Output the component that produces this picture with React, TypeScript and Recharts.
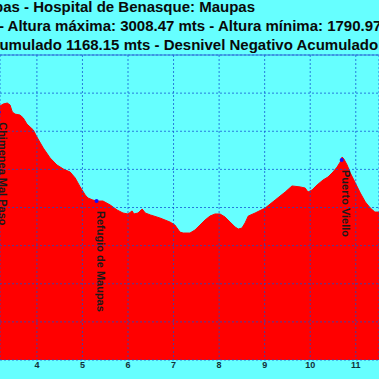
import React from "react";
import {
  ComposedChart,
  Area,
  Scatter,
  XAxis,
  YAxis,
  CartesianGrid,
  ReferenceLine,
} from "recharts";

// distance (km) and altitude (m)
const distanceKm = [
  3.19, 3.26, 3.35, 3.41, 3.46, 3.52, 3.63, 3.7, 3.78, 3.92, 4.0, 4.14, 4.29,
  4.44, 4.58, 4.73, 4.84, 4.95, 5.06, 5.12, 5.23, 5.32, 5.45, 5.61, 5.76, 5.89,
  6.0, 6.09, 6.13, 6.22, 6.31, 6.38, 6.49, 6.7, 6.92, 7.03, 7.14, 7.21, 7.36,
  7.47, 7.58, 7.69, 7.8, 7.91, 8.02, 8.13, 8.24, 8.35, 8.42, 8.5, 8.57, 8.64,
  8.79, 9.01, 9.23, 9.45, 9.6, 9.78, 9.89, 9.95, 10.04, 10.15, 10.28, 10.39,
  10.5, 10.59, 10.66, 10.7, 10.74, 10.81, 10.88, 10.99, 11.1, 11.21, 11.32,
  11.42, 11.51,
];
const altitude = [
  2832, 2843, 2848, 2838, 2801, 2790, 2785, 2770, 2738, 2707, 2670, 2612, 2560,
  2523, 2502, 2486, 2455, 2408, 2366, 2350, 2339, 2334, 2334, 2313, 2287, 2271,
  2266, 2282, 2266, 2271, 2292, 2271, 2261, 2245, 2224, 2208, 2171, 2166, 2166,
  2182, 2208, 2234, 2255, 2266, 2266, 2250, 2224, 2198, 2187, 2192, 2219, 2255,
  2271, 2297, 2339, 2381, 2413, 2408, 2402, 2381, 2392, 2418, 2444, 2460,
  2486, 2512, 2539, 2565, 2554, 2523, 2481, 2429, 2376, 2329, 2297,
  2276, 2276,
];

const waypointNames = ["Chimenea Mal Paso", "Refugio de Maupas", "Puerto Viello"];
const waypointKm = [3.16, 5.31, 10.69];
const waypointAlt = [2800, 2334, 2549];

const xTicks = [4, 5, 6, 7, 8, 9, 10, 11];
const yTicks = [1500, 1700, 1900, 2100, 2300, 2500, 2700, 2900, 3100];

const titleLines = [
  "Maupas - Hospital de Benasque: Maupas",
  "- Altura máxima: 3008.47 mts - Altura mínima: 1790.97 mts",
  "Desnivel Positivo Acumulado 1168.15 mts - Desnivel Negativo Acumulado",
];

const profile = distanceKm.map((km, i) => ({ km, alt: altitude[i] }));
const waypoints = waypointNames.map((name, i) => ({
  name,
  km: waypointKm[i],
  alt: waypointAlt[i],
}));

const W = 379;
const H = 379;
const FONT = "'Liberation Sans', Arial, sans-serif";

const Waypoint = (props: any) => {
  const { cx, cy, payload } = props;
  const ty = cy + 10;
  return (
    <g>
      <circle cx={cx} cy={cy} r={2} fill="#1010ff" />
      <text
        x={cx}
        y={ty}
        transform={`rotate(90 ${cx} ${ty})`}
        fontSize={11}
        fontWeight="bold"
        fontFamily={FONT}
        fill="#1a1a1a"
      >
        {payload.name}
      </text>
    </g>
  );
};

export default function App() {
  return (
    <div
      style={{
        position: "absolute",
        left: 0,
        top: 0,
        width: W,
        height: H,
        overflow: "hidden",
        background: "#66ffff",
      }}
    >
      <ComposedChart
        width={W}
        height={H}
        data={profile}
        margin={{ top: 55, right: 0, bottom: 0, left: 0 }}
      >
        <XAxis
          dataKey="km"
          type="number"
          domain={[3.19, 11.51]}
          allowDataOverflow
          ticks={xTicks}
          height={19}
          tickSize={0}
          tickMargin={2}
          axisLine={false}
          tick={{ fontSize: 9, fontWeight: "bold", fill: "#12303a", fontFamily: FONT }}
        />
        <YAxis hide type="number" domain={[1500, 3100]} ticks={yTicks} />
        <Area
          type="linear"
          dataKey="alt"
          fill="#ff0000"
          fillOpacity={1}
          stroke="#ff0000"
          strokeWidth={1}
          isAnimationActive={false}
        />
        <CartesianGrid
          strokeDasharray="2 2"
          stroke="#1050d0"
          strokeOpacity={0.75}
          zIndex={500}
        />
        <ReferenceLine y={3100} stroke="#3070d8" strokeWidth={1} zIndex={500} />
        <Scatter
          data={waypoints}
          dataKey="alt"
          shape={Waypoint}
          isAnimationActive={false}
          zIndex={600}
        />
      </ComposedChart>
      <svg
        width={W}
        height={56}
        style={{ position: "absolute", left: 0, top: 0 }}
      >
        <g fontFamily={FONT} fontWeight="bold" fontSize={15} fill="#0a0a0a">
          <text x={255} y={12} textAnchor="end">
            {titleLines[0]}
          </text>
          <text x={-1} y={31}>
            {titleLines[1]}
          </text>
          <text x={-147.6} y={50}>
            {titleLines[2]}
          </text>
        </g>
      </svg>
    </div>
  );
}
